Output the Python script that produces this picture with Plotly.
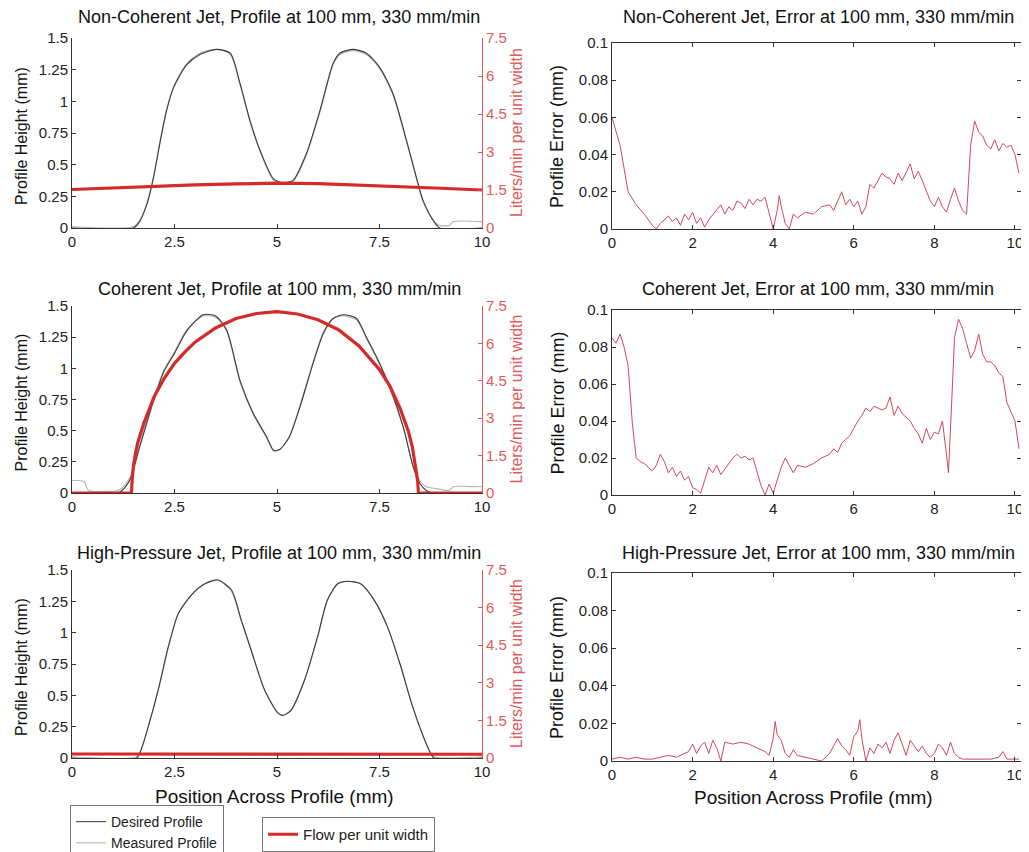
import plotly.graph_objects as go

# page is rendered with an 8px body margin; the figure fills the visible part
OFF = 8
W, H = 1029 - OFF, 852 - OFF

# ---------------- data ----------------
titles_left = ["Non-Coherent Jet, Profile at 100 mm, 330 mm/min",
               "Coherent Jet, Profile at 100 mm, 330 mm/min",
               "High-Pressure Jet, Profile at 100 mm, 330 mm/min"]
titles_right = ["Non-Coherent Jet, Error at 100 mm, 330 mm/min",
                "Coherent Jet, Error at 100 mm, 330 mm/min",
                "High-Pressure Jet, Error at 100 mm, 330 mm/min"]

# Desired profiles (mm)
des1_x = [0, 1.5, 1.65, 1.83, 1.99, 2.15, 2.31, 2.48, 2.8, 3.12, 3.53, 3.86, 4.1, 4.34, 4.59, 4.91, 5.15, 5.4, 5.72, 6.05, 6.37, 6.53, 6.86, 7.18, 7.5, 7.83, 8.16, 8.4, 8.56, 8.81, 8.97, 10]
des1_y = [0, 0, 0.05, 0.19, 0.40, 0.68, 0.93, 1.11, 1.29, 1.37, 1.41, 1.38, 1.14, 0.85, 0.61, 0.39, 0.356, 0.38, 0.59, 0.93, 1.30, 1.38, 1.41, 1.38, 1.27, 1.06, 0.69, 0.40, 0.22, 0.06, 0, 0]
des2_x = [0, 1.1, 1.22, 1.42, 1.66, 2.0, 2.25, 2.5, 2.8, 3.2, 3.5, 3.77, 4.1, 4.42, 4.75, 4.92, 5.07, 5.3, 5.56, 5.88, 6.13, 6.37, 6.62, 6.94, 7.18, 7.43, 7.75, 8.08, 8.32, 8.48, 8.64, 8.8, 10]
des2_y = [0, 0, 0.02, 0.11, 0.38, 0.75, 0.98, 1.12, 1.30, 1.43, 1.42, 1.31, 0.90, 0.64, 0.45, 0.34, 0.35, 0.45, 0.69, 1.04, 1.28, 1.40, 1.43, 1.40, 1.25, 1.09, 0.85, 0.53, 0.21, 0.08, 0.02, 0, 0]
des3_x = [0, 1.58, 1.7, 1.86, 2.1, 2.35, 2.59, 2.91, 3.24, 3.56, 3.89, 4.13, 4.37, 4.7, 5.02, 5.14, 5.34, 5.67, 5.99, 6.23, 6.48, 6.72, 7.04, 7.37, 7.69, 8.02, 8.26, 8.5, 8.7, 8.83, 10]
des3_y = [0, 0, 0.08, 0.25, 0.54, 0.89, 1.15, 1.30, 1.39, 1.42, 1.34, 1.10, 0.86, 0.54, 0.36, 0.34, 0.38, 0.62, 0.97, 1.26, 1.39, 1.41, 1.39, 1.26, 1.05, 0.73, 0.46, 0.23, 0.07, 0, 0]

# Measured profiles (mm)
mea1_x = [0, 1.5, 1.65, 1.83, 1.99, 2.15, 2.31, 2.48, 2.8, 3.12, 3.53, 3.86, 4.1, 4.34, 4.59, 4.91, 5.15, 5.4, 5.72, 6.05, 6.37, 6.53, 6.86, 7.18, 7.5, 7.83, 8.16, 8.4, 8.56, 8.81, 8.97, 9.2, 9.3, 10]
mea1_y = [0.01, 0.01, 0.06, 0.20, 0.41, 0.69, 0.94, 1.12, 1.30, 1.38, 1.41, 1.37, 1.13, 0.84, 0.60, 0.38, 0.35, 0.37, 0.58, 0.92, 1.29, 1.37, 1.40, 1.37, 1.26, 1.05, 0.68, 0.39, 0.21, 0.06, 0.02, 0.02, 0.05, 0.05]
mea2_x = [0, 0.3, 0.4, 1.1, 1.22, 1.42, 1.66, 2.0, 2.25, 2.5, 2.8, 3.2, 3.5, 3.77, 4.1, 4.42, 4.75, 4.92, 5.07, 5.3, 5.56, 5.88, 6.13, 6.37, 6.62, 6.94, 7.18, 7.43, 7.75, 8.08, 8.32, 8.48, 8.64, 8.8, 9.2, 9.3, 9.9, 10]
mea2_y = [0.10, 0.09, 0.02, 0.02, 0.04, 0.13, 0.40, 0.77, 0.99, 1.13, 1.31, 1.42, 1.41, 1.30, 0.89, 0.63, 0.44, 0.34, 0.35, 0.45, 0.70, 1.05, 1.29, 1.40, 1.42, 1.39, 1.24, 1.08, 0.84, 0.52, 0.22, 0.10, 0.05, 0.04, 0.02, 0.05, 0.05, 0.05]
mea3_x = [0, 1.58, 1.7, 1.86, 2.1, 2.35, 2.59, 2.91, 3.24, 3.56, 3.89, 4.13, 4.37, 4.7, 5.02, 5.14, 5.34, 5.67, 5.99, 6.23, 6.48, 6.72, 7.04, 7.37, 7.69, 8.02, 8.26, 8.5, 8.7, 8.83, 10]
mea3_y = [0.01, 0.01, 0.08, 0.25, 0.54, 0.88, 1.15, 1.30, 1.39, 1.42, 1.33, 1.09, 0.86, 0.54, 0.36, 0.34, 0.38, 0.62, 0.96, 1.26, 1.39, 1.41, 1.39, 1.26, 1.05, 0.73, 0.46, 0.23, 0.07, 0.01, 0.01]

# Flow per unit width (Liters/min)
flow1_x = [0, 1, 2, 3, 4, 5, 6, 7, 8, 9, 10]
flow1_y = [1.52, 1.58, 1.66, 1.70, 1.74, 1.77, 1.75, 1.70, 1.64, 1.57, 1.50]
flow2_x = [0, 1.45, 1.47, 1.5, 1.55, 1.6, 1.75, 2.0, 2.25, 2.5, 2.75, 3.0, 3.5, 4.0, 4.5, 5.0, 5.5, 6.0, 6.5, 7.0, 7.5, 7.75, 8.0, 8.2, 8.3, 8.38, 8.43, 8.45, 10]
flow2_y = [0, 0, 0.6, 1.1, 1.6, 2.0, 2.8, 3.85, 4.6, 5.2, 5.65, 6.05, 6.62, 7.0, 7.2, 7.27, 7.18, 6.95, 6.55, 5.9, 4.95, 4.3, 3.4, 2.5, 1.85, 1.1, 0.5, 0, 0]
flow3_x = [0, 2.5, 5, 7.5, 10]
flow3_y = [0.16, 0.16, 0.15, 0.15, 0.15]

# Profile errors (mm)
err1_x = [0, 0.2, 0.4, 0.6, 0.8, 1.0, 1.1, 1.2, 1.4, 1.5, 1.6, 1.7, 1.8, 1.9, 2.0, 2.1, 2.2, 2.3, 2.4, 2.6, 2.7, 2.8, 2.9, 3.0, 3.1, 3.2, 3.3, 3.4, 3.5, 3.6, 3.7, 3.8, 3.9, 4.0, 4.1, 4.15, 4.2, 4.3, 4.4, 4.5, 4.6, 4.8, 5.0, 5.2, 5.4, 5.5, 5.7, 5.8, 5.9, 6.0, 6.1, 6.2, 6.3, 6.4, 6.5, 6.6, 6.7, 6.8, 6.9, 7.0, 7.1, 7.2, 7.3, 7.4, 7.5, 7.6, 7.7, 7.8, 7.9, 8.0, 8.1, 8.2, 8.3, 8.4, 8.5, 8.6, 8.7, 8.8, 8.9, 9.0, 9.1, 9.2, 9.3, 9.4, 9.5, 9.6, 9.7, 9.8, 9.9, 10.0, 10.1]
err1_y = [0.060, 0.045, 0.020, 0.013, 0.008, 0.002, 0.000, 0.003, 0.007, 0.004, 0.006, 0.002, 0.008, 0.005, 0.009, 0.003, 0.006, 0.001, 0.005, 0.010, 0.013, 0.008, 0.012, 0.010, 0.015, 0.014, 0.011, 0.016, 0.013, 0.016, 0.015, 0.017, 0.008, 0.000, 0.010, 0.018, 0.012, 0.003, 0.000, 0.008, 0.006, 0.009, 0.008, 0.012, 0.013, 0.010, 0.020, 0.013, 0.016, 0.012, 0.015, 0.008, 0.012, 0.024, 0.022, 0.026, 0.030, 0.028, 0.027, 0.024, 0.030, 0.026, 0.031, 0.035, 0.027, 0.031, 0.026, 0.020, 0.015, 0.012, 0.017, 0.012, 0.009, 0.016, 0.022, 0.015, 0.010, 0.008, 0.045, 0.058, 0.052, 0.050, 0.045, 0.043, 0.048, 0.042, 0.046, 0.044, 0.045, 0.040, 0.030]
err2_x = [0, 0.1, 0.2, 0.3, 0.4, 0.5, 0.6, 0.7, 0.8, 1.0, 1.1, 1.2, 1.3, 1.4, 1.5, 1.6, 1.7, 1.8, 1.9, 2.0, 2.1, 2.2, 2.3, 2.4, 2.5, 2.6, 2.7, 2.8, 2.9, 3.0, 3.1, 3.2, 3.3, 3.4, 3.5, 3.6, 3.7, 3.8, 3.9, 4.0, 4.1, 4.2, 4.3, 4.4, 4.5, 4.6, 4.8, 5.0, 5.2, 5.4, 5.5, 5.6, 5.7, 5.8, 5.9, 6.0, 6.1, 6.2, 6.3, 6.4, 6.5, 6.6, 6.7, 6.8, 6.9, 7.0, 7.1, 7.2, 7.3, 7.4, 7.5, 7.6, 7.7, 7.8, 7.9, 8.0, 8.1, 8.2, 8.3, 8.35, 8.45, 8.5, 8.6, 8.7, 8.8, 8.9, 9.0, 9.1, 9.2, 9.3, 9.4, 9.5, 9.6, 9.7, 9.8, 9.9, 10.0, 10.1]
err2_y = [0.085, 0.082, 0.087, 0.080, 0.070, 0.040, 0.020, 0.018, 0.017, 0.013, 0.016, 0.022, 0.018, 0.012, 0.015, 0.010, 0.013, 0.008, 0.010, 0.004, 0.003, 0.001, 0.008, 0.015, 0.012, 0.016, 0.011, 0.014, 0.017, 0.020, 0.022, 0.020, 0.021, 0.019, 0.020, 0.012, 0.005, 0.000, 0.006, 0.001, 0.008, 0.015, 0.020, 0.016, 0.012, 0.016, 0.015, 0.017, 0.020, 0.022, 0.025, 0.023, 0.028, 0.030, 0.032, 0.036, 0.040, 0.043, 0.047, 0.045, 0.048, 0.047, 0.046, 0.047, 0.053, 0.043, 0.048, 0.044, 0.042, 0.040, 0.036, 0.033, 0.028, 0.036, 0.030, 0.034, 0.033, 0.040, 0.022, 0.012, 0.060, 0.085, 0.095, 0.090, 0.082, 0.074, 0.078, 0.087, 0.076, 0.072, 0.072, 0.070, 0.066, 0.064, 0.050, 0.045, 0.040, 0.025]
err3_x = [0, 0.2, 0.4, 0.6, 0.8, 1.0, 1.2, 1.4, 1.6, 1.8, 1.9, 2.0, 2.1, 2.2, 2.3, 2.4, 2.5, 2.6, 2.7, 2.8, 3.0, 3.2, 3.4, 3.6, 3.8, 3.9, 4.0, 4.05, 4.1, 4.2, 4.3, 4.4, 4.5, 4.6, 4.8, 5.0, 5.2, 5.4, 5.5, 5.6, 5.7, 5.8, 5.9, 6.0, 6.1, 6.15, 6.2, 6.3, 6.4, 6.5, 6.6, 6.7, 6.8, 6.9, 7.0, 7.1, 7.2, 7.3, 7.4, 7.5, 7.6, 7.7, 7.8, 7.9, 8.0, 8.1, 8.2, 8.3, 8.4, 8.5, 8.6, 8.7, 9.0, 9.4, 9.6, 9.7, 9.8, 10.0, 10.1]
err3_y = [0.001, 0.002, 0.001, 0.002, 0.001, 0.001, 0.002, 0.003, 0.002, 0.004, 0.005, 0.009, 0.004, 0.008, 0.010, 0.004, 0.011, 0.007, 0.000, 0.010, 0.009, 0.010, 0.009, 0.007, 0.005, 0.003, 0.012, 0.021, 0.014, 0.011, 0.004, 0.002, 0.006, 0.003, 0.002, 0.001, 0.000, 0.004, 0.008, 0.012, 0.008, 0.006, 0.003, 0.013, 0.016, 0.022, 0.012, 0.000, 0.007, 0.004, 0.009, 0.007, 0.010, 0.004, 0.011, 0.015, 0.009, 0.003, 0.011, 0.008, 0.005, 0.008, 0.004, 0.002, 0.004, 0.009, 0.007, 0.003, 0.010, 0.004, 0.002, 0.001, 0.001, 0.001, 0.002, 0.005, 0.001, 0.001, 0.001]

left_ticks = [0, 2.5, 5, 7.5, 10]
left_ticklabels = ["0", "2.5", "5", "7.5", "10"]
right_ticks = [0, 2, 4, 6, 8, 10]
height_ticks = [0, 0.25, 0.5, 0.75, 1, 1.25, 1.5]
height_ticklabels = ["0", "0.25", "0.5", "0.75", "1", "1.25", "1.5"]
flow_ticks = [0, 1.5, 3, 4.5, 6, 7.5]
err_ticks = [0, 0.02, 0.04, 0.06, 0.08, 0.1]
err_ticklabels = ["0", "0.02", "0.04", "0.06", "0.08", "0.1"]

des = [(des1_x, des1_y), (des2_x, des2_y), (des3_x, des3_y)]
mea = [(mea1_x, mea1_y), (mea2_x, mea2_y), (mea3_x, mea3_y)]
flw = [(flow1_x, flow1_y), (flow2_x, flow2_y), (flow3_x, flow3_y)]
err = [(err1_x, err1_y), (err2_x, err2_y), (err3_x, err3_y)]

# ---------------- layout geometry (screen pixels) ----------------
L_X = (72, 482)
R_X = (612, 1021)
L_Y = [(38, 228), (306, 493), (570, 758)]
R_Y = [(43, 229), (310, 495), (573, 761)]
title_y = [17, 289, 553]


def px(x):
    return (x - OFF) / W


def py(y):
    return 1 - (y - OFF) / H


FONT = "Liberation Sans, Arial, Helvetica, sans-serif"
AX = "#333333"
RED_AX = "#e05a5a"
C_DES = "#3c3c3c"
C_MEA = "#b5b5b5"
C_FLOW = "#d42a2a"
C_ERR = "#cf4862"
TICK = 15

fig = go.Figure()
layout = {}
annotations = []


def key(a):
    n = a[1:]
    return ("xaxis" if a[0] == "x" else "yaxis") + ("" if n == "1" else n)


for r in range(3):
    xl = "x%d" % (2 * r + 1)
    xr = "x%d" % (2 * r + 2)
    yl = "y%d" % (3 * r + 1)
    yf = "y%d" % (3 * r + 2)
    yr = "y%d" % (3 * r + 3)

    fig.add_trace(go.Scatter(x=mea[r][0], y=mea[r][1], mode="lines",
                             line=dict(color=C_MEA, width=1.2, shape="spline", smoothing=0.7),
                             name="Measured Profile", showlegend=False,
                             xaxis=xl, yaxis=yl))
    fig.add_trace(go.Scatter(x=des[r][0], y=des[r][1], mode="lines",
                             line=dict(color=C_DES, width=1.1, shape="spline", smoothing=0.7),
                             name="Desired Profile", showlegend=False,
                             xaxis=xl, yaxis=yl))
    fig.add_trace(go.Scatter(x=flw[r][0], y=flw[r][1], mode="lines",
                             line=dict(color=C_FLOW, width=3.2),
                             name="Flow per unit width", showlegend=False,
                             xaxis=xl, yaxis=yf))
    fig.add_trace(go.Scatter(x=err[r][0], y=err[r][1], mode="lines",
                             line=dict(color=C_ERR, width=1),
                             showlegend=False, xaxis=xr, yaxis=yr))

    common = dict(showgrid=False, zeroline=False, showline=True, linewidth=1,
                  ticks="inside", ticklen=4, tickwidth=1, automargin=False,
                  tickfont=dict(family=FONT, size=TICK, color="#222"))

    layout[key(xl)] = dict(common, domain=[px(L_X[0]), px(L_X[1])], range=[0, 10],
                           anchor=yl, linecolor=AX, tickcolor=AX,
                           tickvals=left_ticks, ticktext=left_ticklabels)
    layout[key(yl)] = dict(common, domain=[py(L_Y[r][1]), py(L_Y[r][0])], range=[0, 1.5],
                           anchor=xl, linecolor=AX, tickcolor=AX,
                           tickvals=height_ticks, ticktext=height_ticklabels)
    layout[key(yf)] = dict(common, domain=[py(L_Y[r][1]), py(L_Y[r][0])], range=[0, 7.5],
                           anchor=xl, overlaying=yl, side="right",
                           linecolor=RED_AX, tickcolor=RED_AX,
                           tickvals=flow_ticks,
                           tickfont=dict(family=FONT, size=TICK, color=RED_AX))
    layout[key(xr)] = dict(common, domain=[px(R_X[0]), px(R_X[1])], range=[0, 10.15],
                           anchor=yr, linecolor=AX, tickcolor=AX, mirror="ticks",
                           tickvals=right_ticks)
    layout[key(yr)] = dict(common, domain=[py(R_Y[r][1]), py(R_Y[r][0])], range=[0, 0.1],
                           anchor=xr, linecolor=AX, tickcolor=AX, mirror="ticks",
                           tickvals=err_ticks, ticktext=err_ticklabels)

    annotations.append(dict(text=titles_left[r], x=px(279), y=py(title_y[r]),
                            xref="paper", yref="paper", showarrow=False,
                            xanchor="center", yanchor="middle",
                            font=dict(family=FONT, size=18, color="#111")))
    annotations.append(dict(text=titles_right[r], x=px(818), y=py(title_y[r]),
                            xref="paper", yref="paper", showarrow=False,
                            xanchor="center", yanchor="middle",
                            font=dict(family=FONT, size=18, color="#111")))
    ymid_l = (L_Y[r][0] + L_Y[r][1]) / 2
    ymid_r = (R_Y[r][0] + R_Y[r][1]) / 2
    annotations.append(dict(text="Profile Height (mm)", x=px(21), y=py(ymid_l + 3),
                            xref="paper", yref="paper", showarrow=False, textangle=-90,
                            xanchor="center", yanchor="middle",
                            font=dict(family=FONT, size=16, color="#111")))
    annotations.append(dict(text="Liters/min per unit width", x=px(516), y=py(ymid_l),
                            xref="paper", yref="paper", showarrow=False, textangle=-90,
                            xanchor="center", yanchor="middle",
                            font=dict(family=FONT, size=16, color=RED_AX)))
    annotations.append(dict(text="Profile Error (mm)", x=px(557), y=py(ymid_r + 1),
                            xref="paper", yref="paper", showarrow=False, textangle=-90,
                            xanchor="center", yanchor="middle",
                            font=dict(family=FONT, size=18, color="#111")))

annotations.append(dict(text="Position Across Profile (mm)", x=px(274), y=py(796),
                        xref="paper", yref="paper", showarrow=False,
                        xanchor="center", yanchor="middle",
                        font=dict(family=FONT, size=19, color="#111")))
annotations.append(dict(text="Position Across Profile (mm)", x=px(813), y=py(797),
                        xref="paper", yref="paper", showarrow=False,
                        xanchor="center", yanchor="middle",
                        font=dict(family=FONT, size=19, color="#111")))

# legend-only traces
fig.add_trace(go.Scatter(x=[None], y=[None], mode="lines", name="Desired Profile",
                         line=dict(color="#555555", width=1.2), legend="legend",
                         xaxis="x", yaxis="y"))
fig.add_trace(go.Scatter(x=[None], y=[None], mode="lines", name="Measured Profile",
                         line=dict(color="#bdbdbd", width=1.2), legend="legend",
                         xaxis="x", yaxis="y"))
fig.add_trace(go.Scatter(x=[None], y=[None], mode="lines", name="Flow per unit width",
                         line=dict(color=C_FLOW, width=3), legend="legend2",
                         xaxis="x", yaxis="y"))

fig.update_layout(**layout)
fig.update_layout(
    width=W, height=H,
    margin=dict(l=0, r=0, t=0, b=0, pad=0, autoexpand=False),
    paper_bgcolor="white", plot_bgcolor="white",
    annotations=annotations,
    showlegend=True,
    legend=dict(x=px(70), y=py(805), xanchor="left", yanchor="top",
                bgcolor="white", bordercolor="#777", borderwidth=1,
                font=dict(family=FONT, size=14, color="#222"),
                tracegroupgap=0, itemwidth=30),
    legend2=dict(x=px(262), y=py(817), xanchor="left", yanchor="top",
                 bgcolor="white", bordercolor="#777", borderwidth=1,
                 font=dict(family=FONT, size=15, color="#222"), itemwidth=30),
)

fig.write_html("out.html")
